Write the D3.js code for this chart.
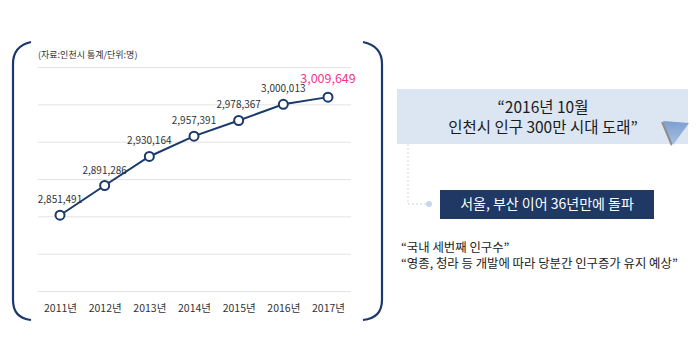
<!DOCTYPE html>
<html>
<head>
<meta charset="utf-8">
<script src="https://d3js.org/d3.v7.min.js"></script>
<style>
  body { margin: 0; background: #fff; }
  text { font-family: "Noto Sans CJK KR", "Noto Sans", sans-serif; }
</style>
</head>
<body>
<script>
var years = ['2011년', '2012년', '2013년', '2014년', '2015년', '2016년', '2017년'];
var population = [2851491, 2891286, 2930164, 2957391, 2978367, 3000013, 3009649];
var gridValues = [2750000, 2800000, 2850000, 2900000, 2950000, 3000000, 3050000];
var headline = ['“2016년 10월', '인천시 인구 300만 시대 도래”'];
var subline = '서울, 부산 이어 36년만에 돌파';
var quotes = ['“국내 세번째 인구수”', '“영종, 청라 등 개발에 따라 당분간 인구증가 유지 예상”'];

var cfg = {
  width: 700,
  height: 363,
  plotLeft: 38,
  plotRight: 351,
  navy: '#1b3a6b'
};

var svg = d3.select('body')
  .append('svg')
  .attr('width', cfg.width)
  .attr('height', cfg.height);

// 괄호 모양 테두리
var bracket = svg.append('g')
  .attr('fill', 'none')
  .attr('stroke', cfg.navy)
  .attr('stroke-width', 2.2);
bracket.append('path').attr('d', 'M31,42 Q13,46 13,64 L13,300 Q13,318 31,320');
bracket.append('path').attr('d', 'M363,42 Q382,46 382,64 L382,300 Q382,318 363,320');

// 축
var x = d3.scalePoint()
  .domain(years)
  .range([60, 328]);
var y = d3.scaleLinear()
  .domain([2750000, 3050000])
  .range([291, 67]);

var grid = svg.append('g')
  .attr('transform', 'translate(' + cfg.plotLeft + ',0)')
  .call(d3.axisRight(y).tickValues(gridValues).tickSize(cfg.plotRight - cfg.plotLeft).tickFormat(''));
grid.select('.domain').remove();
grid.selectAll('line').attr('stroke', '#e3e3e3').attr('stroke-width', 1);

var xAxis = svg.append('g')
  .attr('transform', 'translate(0,291)')
  .call(d3.axisBottom(x).tickSize(0).tickPadding(14));
xAxis.select('.domain').remove();
xAxis.selectAll('text')
  .attr('fill', '#333')
  .style('font-size', '10.5px')
  .style('font-family', '"Noto Sans CJK KR", sans-serif');

svg.append('text')
  .attr('x', 38)
  .attr('y', 58)
  .attr('fill', '#333')
  .style('font-size', '9px')
  .text('(자료:인천시 통계/단위:명)');

// 선
var line = d3.line()
  .x(function (d, i) { return x(years[i]); })
  .y(function (d) { return y(d); });
svg.append('path')
  .datum(population)
  .attr('d', line)
  .attr('fill', 'none')
  .attr('stroke', cfg.navy)
  .attr('stroke-width', 2);

svg.selectAll('.dot')
  .data(population)
  .enter()
  .append('circle')
  .attr('class', 'dot')
  .attr('cx', function (d, i) { return x(years[i]); })
  .attr('cy', function (d) { return y(d); })
  .attr('r', 4.5)
  .attr('fill', '#fff')
  .attr('stroke', cfg.navy)
  .attr('stroke-width', 2);

var last = population.length - 1;
svg.selectAll('.val')
  .data(population)
  .enter()
  .append('text')
  .attr('class', 'val')
  .attr('x', function (d, i) { return x(years[i]); })
  .attr('y', function (d, i) { return y(d) - (i === last ? 14 : 12); })
  .attr('text-anchor', 'middle')
  .attr('fill', function (d, i) { return i === last ? '#f0388e' : '#333'; })
  .style('font-size', function (d, i) { return i === last ? '12.5px' : '10px'; })
  .text(function (d) { return d3.format(',')(d); });

// 오른쪽 설명
var defs = svg.append('defs');
var grad = defs.append('linearGradient').attr('id', 'tri').attr('x1', 0).attr('y1', 0).attr('x2', 0).attr('y2', 1);
grad.append('stop').attr('offset', '0%').attr('stop-color', '#7c9fd0');
grad.append('stop').attr('offset', '100%').attr('stop-color', '#a8c0e3');

svg.append('rect')
  .attr('x', 397).attr('y', 89)
  .attr('width', 291).attr('height', 55)
  .attr('fill', '#dce6f2');
svg.append('path')
  .attr('d', 'M661,122 L686,124 L671,146 Z')
  .attr('fill', '#8f8f8f');
svg.append('path')
  .attr('d', 'M663,121 L689,123 L673,145 Z')
  .attr('fill', 'url(#tri)');

svg.selectAll('.head')
  .data(headline)
  .enter()
  .append('text')
  .attr('class', 'head')
  .attr('x', 543)
  .attr('y', function (d, i) { return 113 + i * 20; })
  .attr('text-anchor', 'middle')
  .attr('fill', '#1a1a1a')
  .style('font-size', '15.5px')
  .text(function (d) { return d; });

svg.append('path')
  .attr('d', 'M408,144 L408,204 L428,204')
  .attr('fill', 'none')
  .attr('stroke', '#c9d7ea')
  .attr('stroke-width', 1)
  .attr('stroke-dasharray', '2,2');
svg.append('circle')
  .attr('cx', 429).attr('cy', 204).attr('r', 3)
  .attr('fill', '#c9d7ea');

svg.append('rect')
  .attr('x', 440).attr('y', 190)
  .attr('width', 214).attr('height', 29)
  .attr('fill', '#1f3864');
svg.append('text')
  .attr('x', 547).attr('y', 209)
  .attr('text-anchor', 'middle')
  .attr('fill', '#fff')
  .style('font-size', '14px')
  .text(subline);

svg.selectAll('.quote')
  .data(quotes)
  .enter()
  .append('text')
  .attr('class', 'quote')
  .attr('x', 401)
  .attr('y', function (d, i) { return 252 + i * 16; })
  .attr('fill', '#222')
  .style('font-size', '12.4px')
  .text(function (d) { return d; });
</script>
</body>
</html>
